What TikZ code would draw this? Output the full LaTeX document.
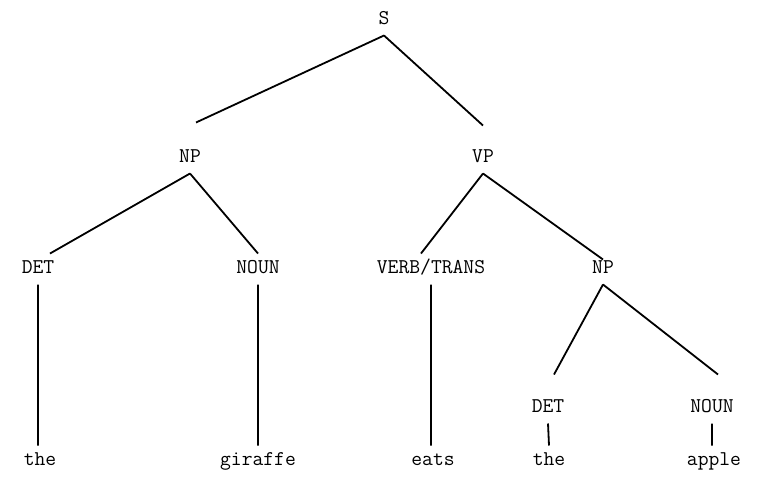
\documentclass[tikz,border=0pt]{standalone}
\usepackage{fontspec}
\begin{document}
\begin{tikzpicture}[x=1pt,y=-1pt,line width=1.8pt,
    lab/.style={font=\ttfamily\fontsize{21}{21}\selectfont,inner sep=0pt,
      outer sep=8pt,text height=12pt,text depth=3pt}]
        \useasboundingbox (0,0) rectangle (762,477);
        \draw (384,20) node[lab](s){S};
        \draw (190,158) node[lab](np1){NP};
        \draw (483,158) node[lab](vp){VP};
        \draw (38,269) node[lab](det1){DET};
        \draw (258,269) node[lab](noun1){NOUN};
        \draw (431,269) node[lab](verb){VERB/TRANS};
        \draw (603,269) node[lab](np2){NP};
        \draw (548,408) node[lab](det2){DET};
        \draw (712,408) node[lab](noun2){NOUN};
        \draw (40,461) node[lab](the1){the};
        \draw (258,461) node[lab](giraffe){giraffe};
        \draw (433,461) node[lab](eats){eats};
        \draw (549,461) node[lab](the2){the};
        \draw (714,461) node[lab](apple){apple};
        \draw
          (s.south) -- ([xshift=6pt,yshift=20pt]np1.north)
          (s.south) -- ([yshift=17pt]vp.north)
          (np1.south) -- ([xshift=12pt]det1.north)
          (np1.south) -- (noun1.north)
          (vp.south) -- ([xshift=-10pt]verb.north)
          (vp.south) -- ([yshift=-6pt]np2.north)
          (np2.south) -- ([xshift=6pt,yshift=18pt]det2.north)
          (np2.south) -- ([xshift=6pt,yshift=18pt]noun2.north)
          (det1.south) -- ([xshift=-2pt]the1.north)
          (noun1.south) -- (giraffe.north)
          (verb.south) -- ([xshift=-2pt]eats.north)
          (det2.south) -- (the2.north)
          (noun2.south) -- ([xshift=-2pt]apple.north)
        ;
      \end{tikzpicture}
\end{document}
